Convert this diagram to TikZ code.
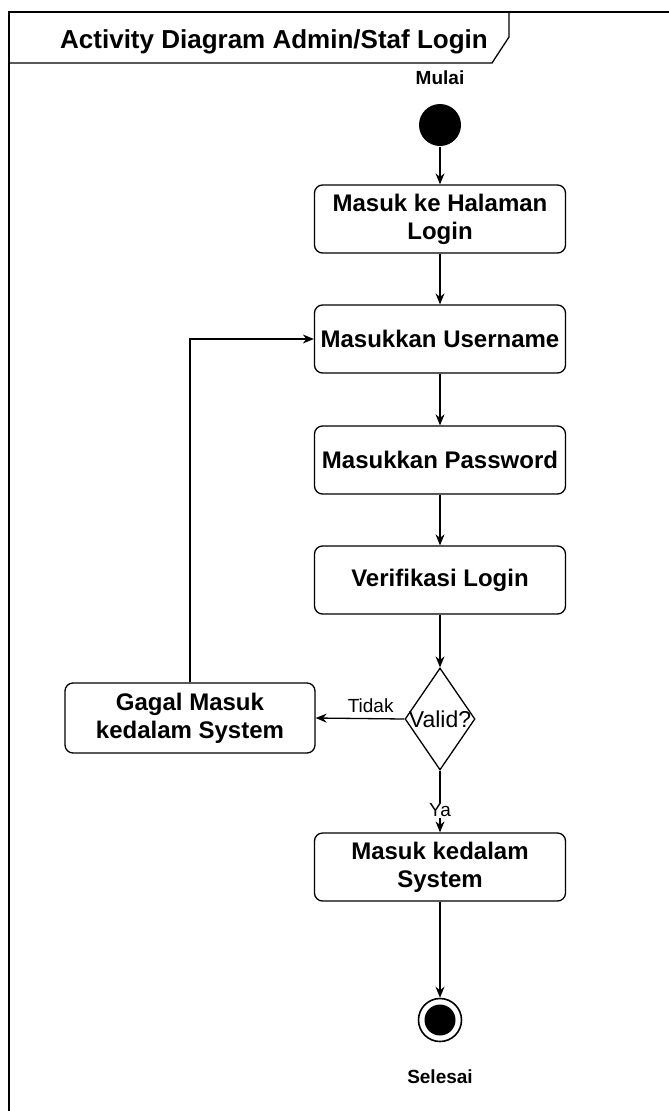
\documentclass[tikz,border=0pt]{standalone}
\usepackage{fontspec}
\setmainfont{Liberation Sans}
\usetikzlibrary{shapes.geometric,arrows.meta}
\begin{document}
\begin{tikzpicture}[x=1pt,y=-1pt,line width=1.3pt,>={Stealth[length=11pt,width=9pt]}]
			\tikzset{activity box/.style={draw,rounded corners=8pt,minimum width=251pt,minimum height=#1,align=center,font=\fontsize{24}{28}\selectfont\bfseries},
				activity box/.default=68pt,
				start state/.style={circle,fill=black,minimum size=42pt,inner sep=0pt},
				end state/.style={draw,circle,minimum size=43pt,inner sep=0pt,line width=1.6pt,
					path picture={\fill (path picture bounding box.center) circle (15.5pt);}},
				decision/.style={draw,diamond,minimum width=70pt,minimum height=102pt,inner sep=0pt},
				small label/.style={font=\fontsize{19}{22}\selectfont#1},
				small label/.default=\bfseries}
			\useasboundingbox (0,0) rectangle (669,1111);
			\draw (9,1130) -- (9,12) -- (690,12);
			\draw (9,63) -- (492,63) -- (509,37) -- (509,12);
			\node[font=\fontsize{26}{30}\selectfont\bfseries] (title) at (274,42) {Activity Diagram Admin/Staf Login};
			\node [small label] (mulai) at (440,78) {Mulai};
			\node [start state] (start) at (440,125) {};
			\node [activity box] (halaman) at (440,219) {Masuk ke Halaman\\Login};
			\node [activity box] (username) at (440,339) {Masukkan Username};
			\node [activity box] (password) at (440,460) {Masukkan Password};
			\node [activity box] (verifikasi) at (440,580) {Verifikasi Login};
			\node [decision, label={[font=\fontsize{23}{27}\selectfont]center:Valid?}] (valid) at (440,719) {};
			\node [activity box=70pt, minimum width=250pt] (gagal) at (190,718) {Gagal Masuk\\kedalam System};
			\node [activity box] (sistem) at (440,867) {Masuk kedalam\\System};
			\node [end state] (selesai) at (440,1020) {};
			\node [small label] (selesailabel) at (440,1077) {Selesai};
			\draw[->] (start) -- (halaman);
			\draw[->] (halaman) -- (username);
			\draw[->] (username) -- (password);
			\draw[->] (password) -- (verifikasi);
			\draw[->] (verifikasi) -- (valid);
			\draw[->] (valid.west) -- node[above=2pt,pos=0.38,small label=\mdseries] {Tidak} (gagal.east);
			\draw[->] (gagal.north) |- (username.west);
			\draw[->] (valid.south) -- node[fill=white,inner sep=1pt,pos=0.64,small label=\mdseries] {Ya} (sistem.north);
			\draw[->] (sistem) -- (selesai);
		\end{tikzpicture}
\end{document}
